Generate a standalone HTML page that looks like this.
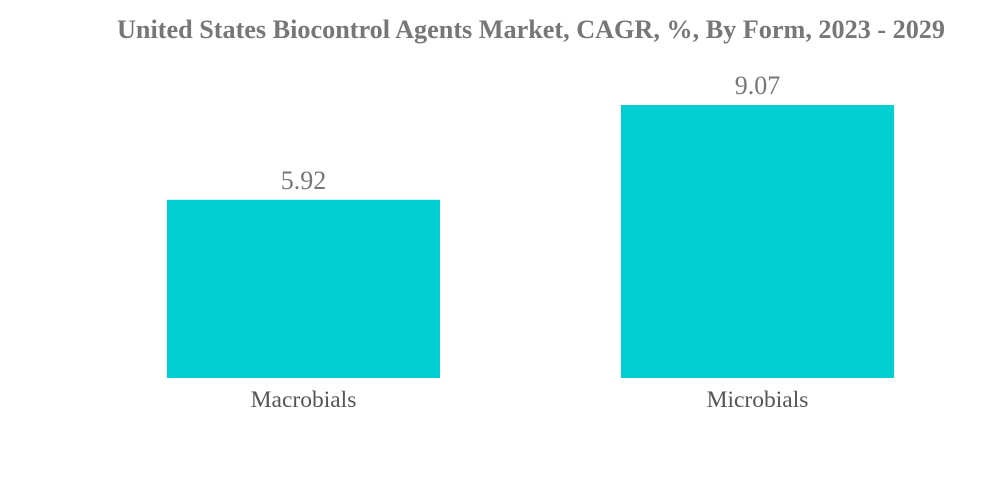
<!DOCTYPE html>
<html><head><meta charset="utf-8"><style>
html,body{margin:0;padding:0;background:#fff;width:1000px;height:483px;overflow:hidden}
svg{display:block}
</style></head><body>
<svg id="chart" width="1000" height="483">
<text x="531" y="38" text-anchor="middle" font-family="Liberation Serif, serif" font-weight="bold" font-size="26.2" fill="#777">United States Biocontrol Agents Market, CAGR, %, By Form, 2023 - 2029</text>
<g id="bars"></g>
</svg>
<script>
const categories = ["Macrobials", "Microbials"];
const values = [5.92, 9.07];
const labels = ["5.92", "9.07"];

const baseline = 378, pxPerUnit = 30.1, barW = 273, x0 = 167, step = 454;
function yScale(v){ return baseline - v * pxPerUnit; }
function xScale(i){ return x0 + i * step; }
const g = document.getElementById('bars');
const ns = 'http://www.w3.org/2000/svg';
categories.forEach((c, i) => {
  const x = xScale(i), y = yScale(values[i]);
  const r = document.createElementNS(ns, 'rect');
  r.setAttribute('x', x); r.setAttribute('y', y);
  r.setAttribute('width', barW); r.setAttribute('height', baseline - y);
  r.setAttribute('fill', '#00ced1');
  
  
  g.appendChild(r);
  const t = document.createElementNS(ns, 'text');
  t.setAttribute('x', x + barW / 2); t.setAttribute('y', y - 11);
  t.setAttribute('text-anchor', 'middle');
  t.setAttribute('font-family', 'Liberation Serif, serif');
  t.setAttribute('font-size', '26'); t.setAttribute('fill', '#777');
  t.textContent = labels[i];
  
  
  g.appendChild(t);
  const l = document.createElementNS(ns, 'text');
  l.setAttribute('x', x + barW / 2); l.setAttribute('y', 407);
  l.setAttribute('text-anchor', 'middle');
  l.setAttribute('font-family', 'Liberation Serif, serif');
  l.setAttribute('font-size', '23.5'); l.setAttribute('fill', '#555');
  l.textContent = c;
  
  
  g.appendChild(l);
});
</script>
</body></html>
